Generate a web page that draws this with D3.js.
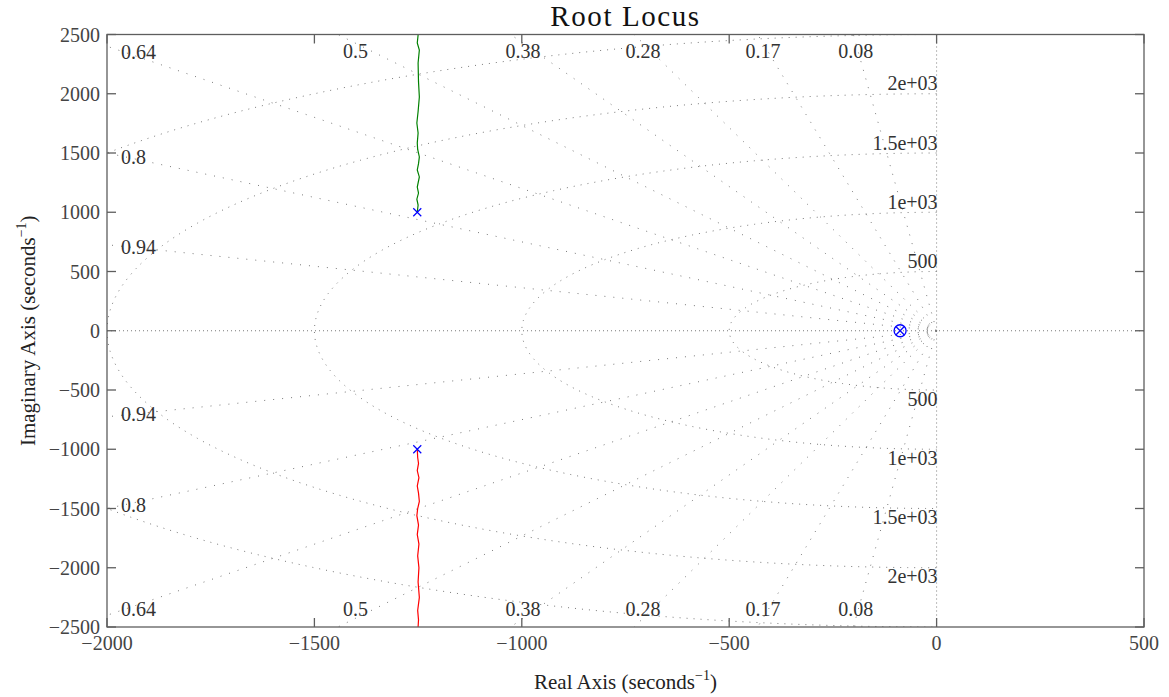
<!DOCTYPE html>
<html>
<head>
<meta charset="utf-8">
<script src="https://cdn.jsdelivr.net/npm/d3@7"></script>
<style>
  body { margin: 0; background: #fff; }
  text { font-family: "Liberation Serif", "Times New Roman", serif; }
</style>
</head>
<body>
<div id="chart"></div>
<script>
// axis ticks
var xTicks = [-2000, -1500, -1000, -500, 0, 500];
var yTicks = [2500, 2000, 1500, 1000, 500, 0, -500, -1000, -1500, -2000, -2500];

// sgrid: damping ratios and natural frequencies
var zetaValues = [0.08, 0.17, 0.28, 0.38, 0.5, 0.64, 0.8, 0.94];
var zetaLabels = ["0.08", "0.17", "0.28", "0.38", "0.5", "0.64", "0.8", "0.94"];
var wnValues = [500, 1000, 1500, 2000, 2500];
var wnLabels = ["500", "1e+03", "1.5e+03", "2e+03", ""];

// poles and zeros
var poles = [[-1252, 1000], [-1252, -1000], [-88, 0]];
var zeros = [[-88, 0]];

// locus branches [real, imag]
var upperBranch = [[-1252, 1000], [-1250, 1060], [-1253, 1110], [-1249, 1162], [-1252, 1213],
  [-1247, 1298], [-1252, 1357], [-1249, 1410], [-1247, 1467], [-1251, 1530], [-1252, 1585],
  [-1250, 1669], [-1253, 1753], [-1250, 1850], [-1247, 1973], [-1249, 2100], [-1250, 2259],
  [-1247, 2369], [-1252, 2428], [-1250, 2496], [-1250, 2700]];
var lowerBranch = [[-1252, -1000], [-1251, -1070], [-1249, -1120], [-1252, -1180], [-1248, -1240],
  [-1252, -1310], [-1249, -1370], [-1247, -1440], [-1251, -1500], [-1253, -1560], [-1249, -1640],
  [-1252, -1720], [-1248, -1800], [-1251, -1900], [-1248, -2000], [-1250, -2120], [-1247, -2250],
  [-1251, -2360], [-1249, -2440], [-1250, -2500], [-1250, -2700]];

var W = 1169, H = 697;
var pLeft = 107, pRight = 1144, pTop = 34.5, pBottom = 627;

var svg = d3.select("#chart").append("svg")
    .attr("width", W)
    .attr("height", H);

var x = d3.scaleLinear().domain([-2000, 500]).range([pLeft, pRight]);
var y = d3.scaleLinear().domain([-2500, 2500]).range([pBottom, pTop]);

var fmt = function(v) { return v < 0 ? "\u2212" + Math.abs(v) : String(v); };

svg.append("defs").append("clipPath")
    .attr("id", "plotclip")
    .append("rect")
    .attr("x", pLeft).attr("y", pTop)
    .attr("width", pRight - pLeft).attr("height", pBottom - pTop);

var plot = svg.append("g").attr("clip-path", "url(#plotclip)");
var grid = plot.append("g")
    .attr("fill", "none")
    .attr("stroke", "#7a7a7a")
    .attr("stroke-width", 1);

var line = d3.line().x(function(d) { return x(d[0]); }).y(function(d) { return y(d[1]); });

// zeta = 1 and zeta = 0 lines
grid.append("line")
    .attr("x1", x(-2000)).attr("x2", x(500))
    .attr("y1", y(0)).attr("y2", y(0))
    .attr("stroke-dasharray", "1,3");
grid.append("line")
    .attr("x1", x(0)).attr("x2", x(0))
    .attr("y1", y(2500)).attr("y2", y(-2500))
    .attr("stroke-dasharray", "1,3");

// damping rays from the origin
zetaValues.forEach(function(z) {
  var s = Math.sqrt(1 - z * z);
  [1, -1].forEach(function(sg) {
    grid.append("path")
        .attr("d", line([[0, 0], [-6000 * z, sg * 6000 * s]]))
        .attr("stroke-dasharray", "1,8");
  });
});

// natural frequency half circles (left half plane)
wnValues.forEach(function(wn) {
  var pts = d3.range(0, 181).map(function(a) {
    var t = (90 + a) * Math.PI / 180;
    return [wn * Math.cos(t), wn * Math.sin(t)];
  });
  grid.append("path")
      .attr("d", line(pts))
      .attr("stroke-dasharray", "1,6");
});

// locus branches
plot.append("path")
    .attr("d", line(upperBranch))
    .attr("fill", "none")
    .attr("stroke", "#008000")
    .attr("stroke-width", 1.2);
plot.append("path")
    .attr("d", line(lowerBranch))
    .attr("fill", "none")
    .attr("stroke", "#ff0000")
    .attr("stroke-width", 1.2);

// pole (x) and zero (o) markers
var ms = 4;
poles.forEach(function(p) {
  var cx = x(p[0]), cy = y(p[1]);
  svg.append("path")
      .attr("d", "M" + (cx - ms) + "," + (cy - ms) + "L" + (cx + ms) + "," + (cy + ms) +
                 "M" + (cx - ms) + "," + (cy + ms) + "L" + (cx + ms) + "," + (cy - ms))
      .attr("stroke", "#0000ff")
      .attr("stroke-width", 1.2);
});
zeros.forEach(function(p) {
  svg.append("circle")
      .attr("cx", x(p[0])).attr("cy", y(p[1]))
      .attr("r", 6)
      .attr("fill", "none")
      .attr("stroke", "#0000ff")
      .attr("stroke-width", 1.3);
});

// zeta labels
var labelG = svg.append("g")
    .attr("font-size", 20)
    .attr("fill", "#333");
zetaValues.forEach(function(z, i) {
  var s = Math.sqrt(1 - z * z);
  // pixel direction of the ray
  var dxp = x(-z) - x(0), dyp = y(s) - y(0);
  var reTop = -2500 * z / s;
  [1, -1].forEach(function(sg) {
    if (reTop >= -2000) {
      var yp = sg > 0 ? pTop + 8.7 : pBottom - 8.7;
      var t = (yp - y(0)) / (sg * dyp);
      labelG.append("text")
          .attr("x", x(0) + t * dxp)
          .attr("y", sg > 0 ? yp + 15 : yp - 2)
          .attr("text-anchor", "middle")
          .text(zetaLabels[i]);
    } else {
      var xp = pLeft + 14;
      var t2 = (xp - x(0)) / dxp;
      var yy = y(0) + sg * t2 * dyp;
      labelG.append("text")
          .attr("x", xp)
          .attr("y", yy + sg * 1 + 7)
          .attr("text-anchor", "start")
          .text(zetaLabels[i]);
    }
  });
});

// natural frequency labels
wnValues.forEach(function(wn, i) {
  if (!wnLabels[i]) return;
  labelG.append("text")
      .attr("x", x(0) + 1)
      .attr("y", y(wn) - 3.5)
      .attr("text-anchor", "end")
      .text(wnLabels[i]);
  labelG.append("text")
      .attr("x", x(0) + 1)
      .attr("y", y(-wn) + 15.5)
      .attr("text-anchor", "end")
      .text(wnLabels[i]);
});

// axes box and ticks (inward, all four sides)
var axisColor = "#5e5e5e";
var tickLen = 9;
var axes = svg.append("g").attr("stroke", axisColor).attr("stroke-width", 1.3);
axes.append("rect")
    .attr("x", pLeft).attr("y", pTop)
    .attr("width", pRight - pLeft).attr("height", pBottom - pTop)
    .attr("fill", "none");
xTicks.forEach(function(v) {
  axes.append("line").attr("x1", x(v)).attr("x2", x(v)).attr("y1", pBottom).attr("y2", pBottom - tickLen);
  axes.append("line").attr("x1", x(v)).attr("x2", x(v)).attr("y1", pTop).attr("y2", pTop + tickLen);
});
yTicks.forEach(function(v) {
  axes.append("line").attr("x1", pLeft).attr("x2", pLeft + tickLen).attr("y1", y(v)).attr("y2", y(v));
  axes.append("line").attr("x1", pRight).attr("x2", pRight - tickLen).attr("y1", y(v)).attr("y2", y(v));
});

var tickG = svg.append("g").attr("font-size", 20).attr("fill", "#444");
xTicks.forEach(function(v) {
  tickG.append("text")
      .attr("x", x(v)).attr("y", pBottom + 23)
      .attr("text-anchor", "middle")
      .text(fmt(v));
});
yTicks.forEach(function(v) {
  tickG.append("text")
      .attr("x", pLeft - 7).attr("y", y(v) + 7)
      .attr("text-anchor", "end")
      .text(fmt(v));
});

// title
svg.append("text")
    .attr("x", (pLeft + pRight) / 2).attr("y", 26)
    .attr("text-anchor", "middle")
    .attr("font-size", 29)
    .attr("letter-spacing", "1.6px")
    .attr("fill", "#111")
    .text("Root Locus");

// axis labels
var xl = svg.append("text")
    .attr("x", (pLeft + pRight) / 2).attr("y", 689)
    .attr("text-anchor", "middle")
    .attr("font-size", 21)
    .attr("fill", "#222");
xl.append("tspan").text("Real Axis (seconds");
xl.append("tspan").attr("dy", -9).attr("font-size", 14).text("\u22121");
xl.append("tspan").attr("dy", 9).text(")");

var yl = svg.append("text")
    .attr("transform", "translate(35," + ((pTop + pBottom) / 2) + ") rotate(-90)")
    .attr("text-anchor", "middle")
    .attr("font-size", 21)
    .attr("fill", "#222");
yl.append("tspan").text("Imaginary Axis (seconds");
yl.append("tspan").attr("dy", -9).attr("font-size", 14).text("\u22121");
yl.append("tspan").attr("dy", 9).text(")");
</script>
</body>
</html>
